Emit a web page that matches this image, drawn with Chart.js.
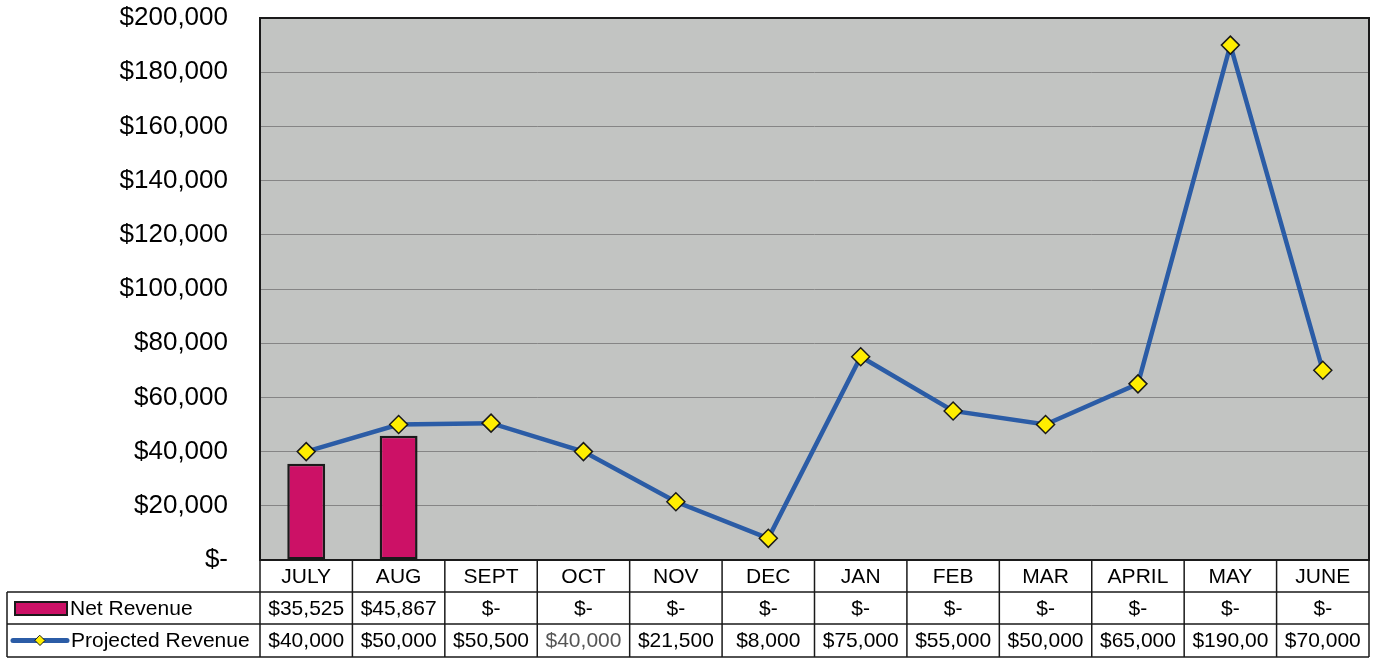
<!DOCTYPE html>
<html>
<head>
<meta charset="utf-8">
<script src="https://cdn.jsdelivr.net/npm/chart.js@4"></script>
<style>
  html, body { margin: 0; padding: 0; background: #ffffff; }
  #wrap { width: 1376px; height: 660px; }
</style>
</head>
<body>
<div id="wrap"><canvas id="c" width="1376" height="660"></canvas></div>
<script>
const months = ['JULY', 'AUG', 'SEPT', 'OCT', 'NOV', 'DEC', 'JAN', 'FEB', 'MAR', 'APRIL', 'MAY', 'JUNE'];
const netRevenue = [35525, 45867, 0, 0, 0, 0, 0, 0, 0, 0, 0, 0];
const projectedRevenue = [40000, 50000, 50500, 40000, 21500, 8000, 75000, 55000, 50000, 65000, 190000, 70000];
const yTicks = [0, 20000, 40000, 60000, 80000, 100000, 120000, 140000, 160000, 180000, 200000];

const FONT = 'Arial, "Liberation Sans", sans-serif';
const BAR_COLOR = '#cc1166';
const LINE_COLOR = '#2b5ca6';
const MARKER_COLOR = '#ffee00';
const PLOT_BG = '#c2c4c2';

function money(v) {
  if (!v) return '$-';
  return '$' + v.toLocaleString('en-US');
}

const plotPlugin = {
  id: 'plotDeco',
  beforeDraw(chart) {
    const { ctx, chartArea: a } = chart;
    ctx.save();
    ctx.fillStyle = '#ffffff';
    ctx.fillRect(0, 0, chart.width, chart.height);
    ctx.fillStyle = PLOT_BG;
    ctx.fillRect(a.left, a.top, a.right - a.left, a.bottom - a.top);
    ctx.restore();
  },
  beforeDatasetsDraw(chart) {
    const { ctx, chartArea: a } = chart;
    ctx.save();
    ctx.strokeStyle = '#1a1a1a';
    ctx.lineWidth = 2;
    ctx.strokeRect(a.left, a.top, a.right - a.left, a.bottom - a.top);
    ctx.restore();
  },
  afterDraw(chart) {
    const { ctx, chartArea: a } = chart;
    const xs = chart.scales.x;
    const n = months.length;
    const colW = (a.right - a.left) / n;
    const tableLeft = 7;
    const r0 = a.bottom, r1 = 592, r2 = 624, r3 = 657;
    ctx.save();
    ctx.fillStyle = '#ffffff';
    ctx.fillRect(a.left, r0 + 1, a.right - a.left, r3 - r0 - 1);
    ctx.fillRect(tableLeft, r1, a.left - tableLeft, r3 - r1);
    ctx.strokeStyle = '#1a1a1a';
    ctx.lineWidth = 1.5;
    ctx.beginPath();
    ctx.moveTo(tableLeft, r1); ctx.lineTo(a.right, r1);
    ctx.moveTo(tableLeft, r2); ctx.lineTo(a.right, r2);
    ctx.moveTo(tableLeft, r3); ctx.lineTo(a.right, r3);
    ctx.moveTo(tableLeft, r1); ctx.lineTo(tableLeft, r3);
    for (let i = 0; i <= n; i++) {
      const x = a.left + i * colW;
      ctx.moveTo(x, r0); ctx.lineTo(x, r3);
    }
    ctx.stroke();

    ctx.fillStyle = '#000000';
    ctx.font = '21px ' + FONT;
    ctx.textAlign = 'center';
    ctx.textBaseline = 'middle';
    function fitText(s, w) {
      let t = s;
      while (t.length > 1 && ctx.measureText(t).width > w) t = t.slice(0, -1);
      return t;
    }
    for (let i = 0; i < n; i++) {
      const cx = xs.getPixelForValue(i);
      ctx.fillStyle = '#000000';
      ctx.fillText(months[i], cx, (r0 + r1) / 2 + 1);
      ctx.fillText(fitText(money(netRevenue[i]), colW - 8), cx, (r1 + r2) / 2 + 1);
      ctx.fillStyle = i === 3 ? '#555555' : '#000000';
      ctx.fillText(fitText(money(projectedRevenue[i]), colW - 8), cx, (r2 + r3) / 2 + 1);
    }

    ctx.fillStyle = BAR_COLOR;
    ctx.fillRect(15, 602, 52, 13);
    ctx.strokeStyle = '#1a1a1a';
    ctx.lineWidth = 2;
    ctx.strokeRect(15, 602, 52, 13);
    const ly = (r2 + r3) / 2;
    ctx.strokeStyle = LINE_COLOR;
    ctx.lineWidth = 5;
    ctx.lineCap = 'round';
    ctx.beginPath();
    ctx.moveTo(13, ly); ctx.lineTo(67, ly);
    ctx.stroke();
    ctx.fillStyle = MARKER_COLOR;
    ctx.strokeStyle = '#1a1a1a';
    ctx.lineWidth = 1;
    ctx.beginPath();
    ctx.moveTo(40, ly - 5); ctx.lineTo(45, ly); ctx.lineTo(40, ly + 5); ctx.lineTo(35, ly);
    ctx.closePath();
    ctx.fill(); ctx.stroke();

    ctx.fillStyle = '#000000';
    ctx.textAlign = 'left';
    ctx.fillText('Net Revenue', 70, (r1 + r2) / 2 + 1);
    ctx.fillText('Projected Revenue', 71, ly + 1);
    ctx.restore();
  }
};

new Chart(document.getElementById('c'), {
  type: 'bar',
  data: {
    labels: months,
    datasets: [
      {
        type: 'line',
        label: 'Projected Revenue',
        data: projectedRevenue,
        borderColor: LINE_COLOR,
        borderWidth: 4.5,
        pointStyle: 'rectRot',
        pointRadius: 9,
        pointHoverRadius: 9,
        pointBackgroundColor: MARKER_COLOR,
        pointBorderColor: '#1a1a1a',
        pointBorderWidth: 1.5,
        tension: 0,
        order: 0
      },
      {
        type: 'bar',
        label: 'Net Revenue',
        data: netRevenue.map(v => v === 0 ? null : v),
        backgroundColor: BAR_COLOR,
        borderColor: '#1a1a1a',
        borderWidth: 2.5,
        borderSkipped: false,
        categoryPercentage: 1,
        barPercentage: 0.41,
        order: 1
      }
    ]
  },
  options: {
    responsive: false,
    animation: false,
    devicePixelRatio: 1,
    layout: { autoPadding: false, padding: { left: 0, top: 18, right: 7, bottom: 100 } },
    plugins: { legend: { display: false }, tooltip: { enabled: false } },
    scales: {
      x: { display: false, offset: true },
      y: {
        min: 0,
        max: 200000,
        afterBuildTicks(scale) { scale.ticks = yTicks.map(v => ({ value: v })); },
        afterFit(scale) {
          scale.width = 260;
          scale.paddingTop = 0;
          scale.paddingBottom = 0;
        },
        border: { display: false },
        grid: { color: '#858585', lineWidth: 1, drawTicks: false },
        ticks: {
          padding: 32,
          color: '#000000',
          font: { family: FONT, size: 26 },
          callback: v => money(v)
        }
      }
    }
  },
  plugins: [plotPlugin]
});
</script>
</body>
</html>
